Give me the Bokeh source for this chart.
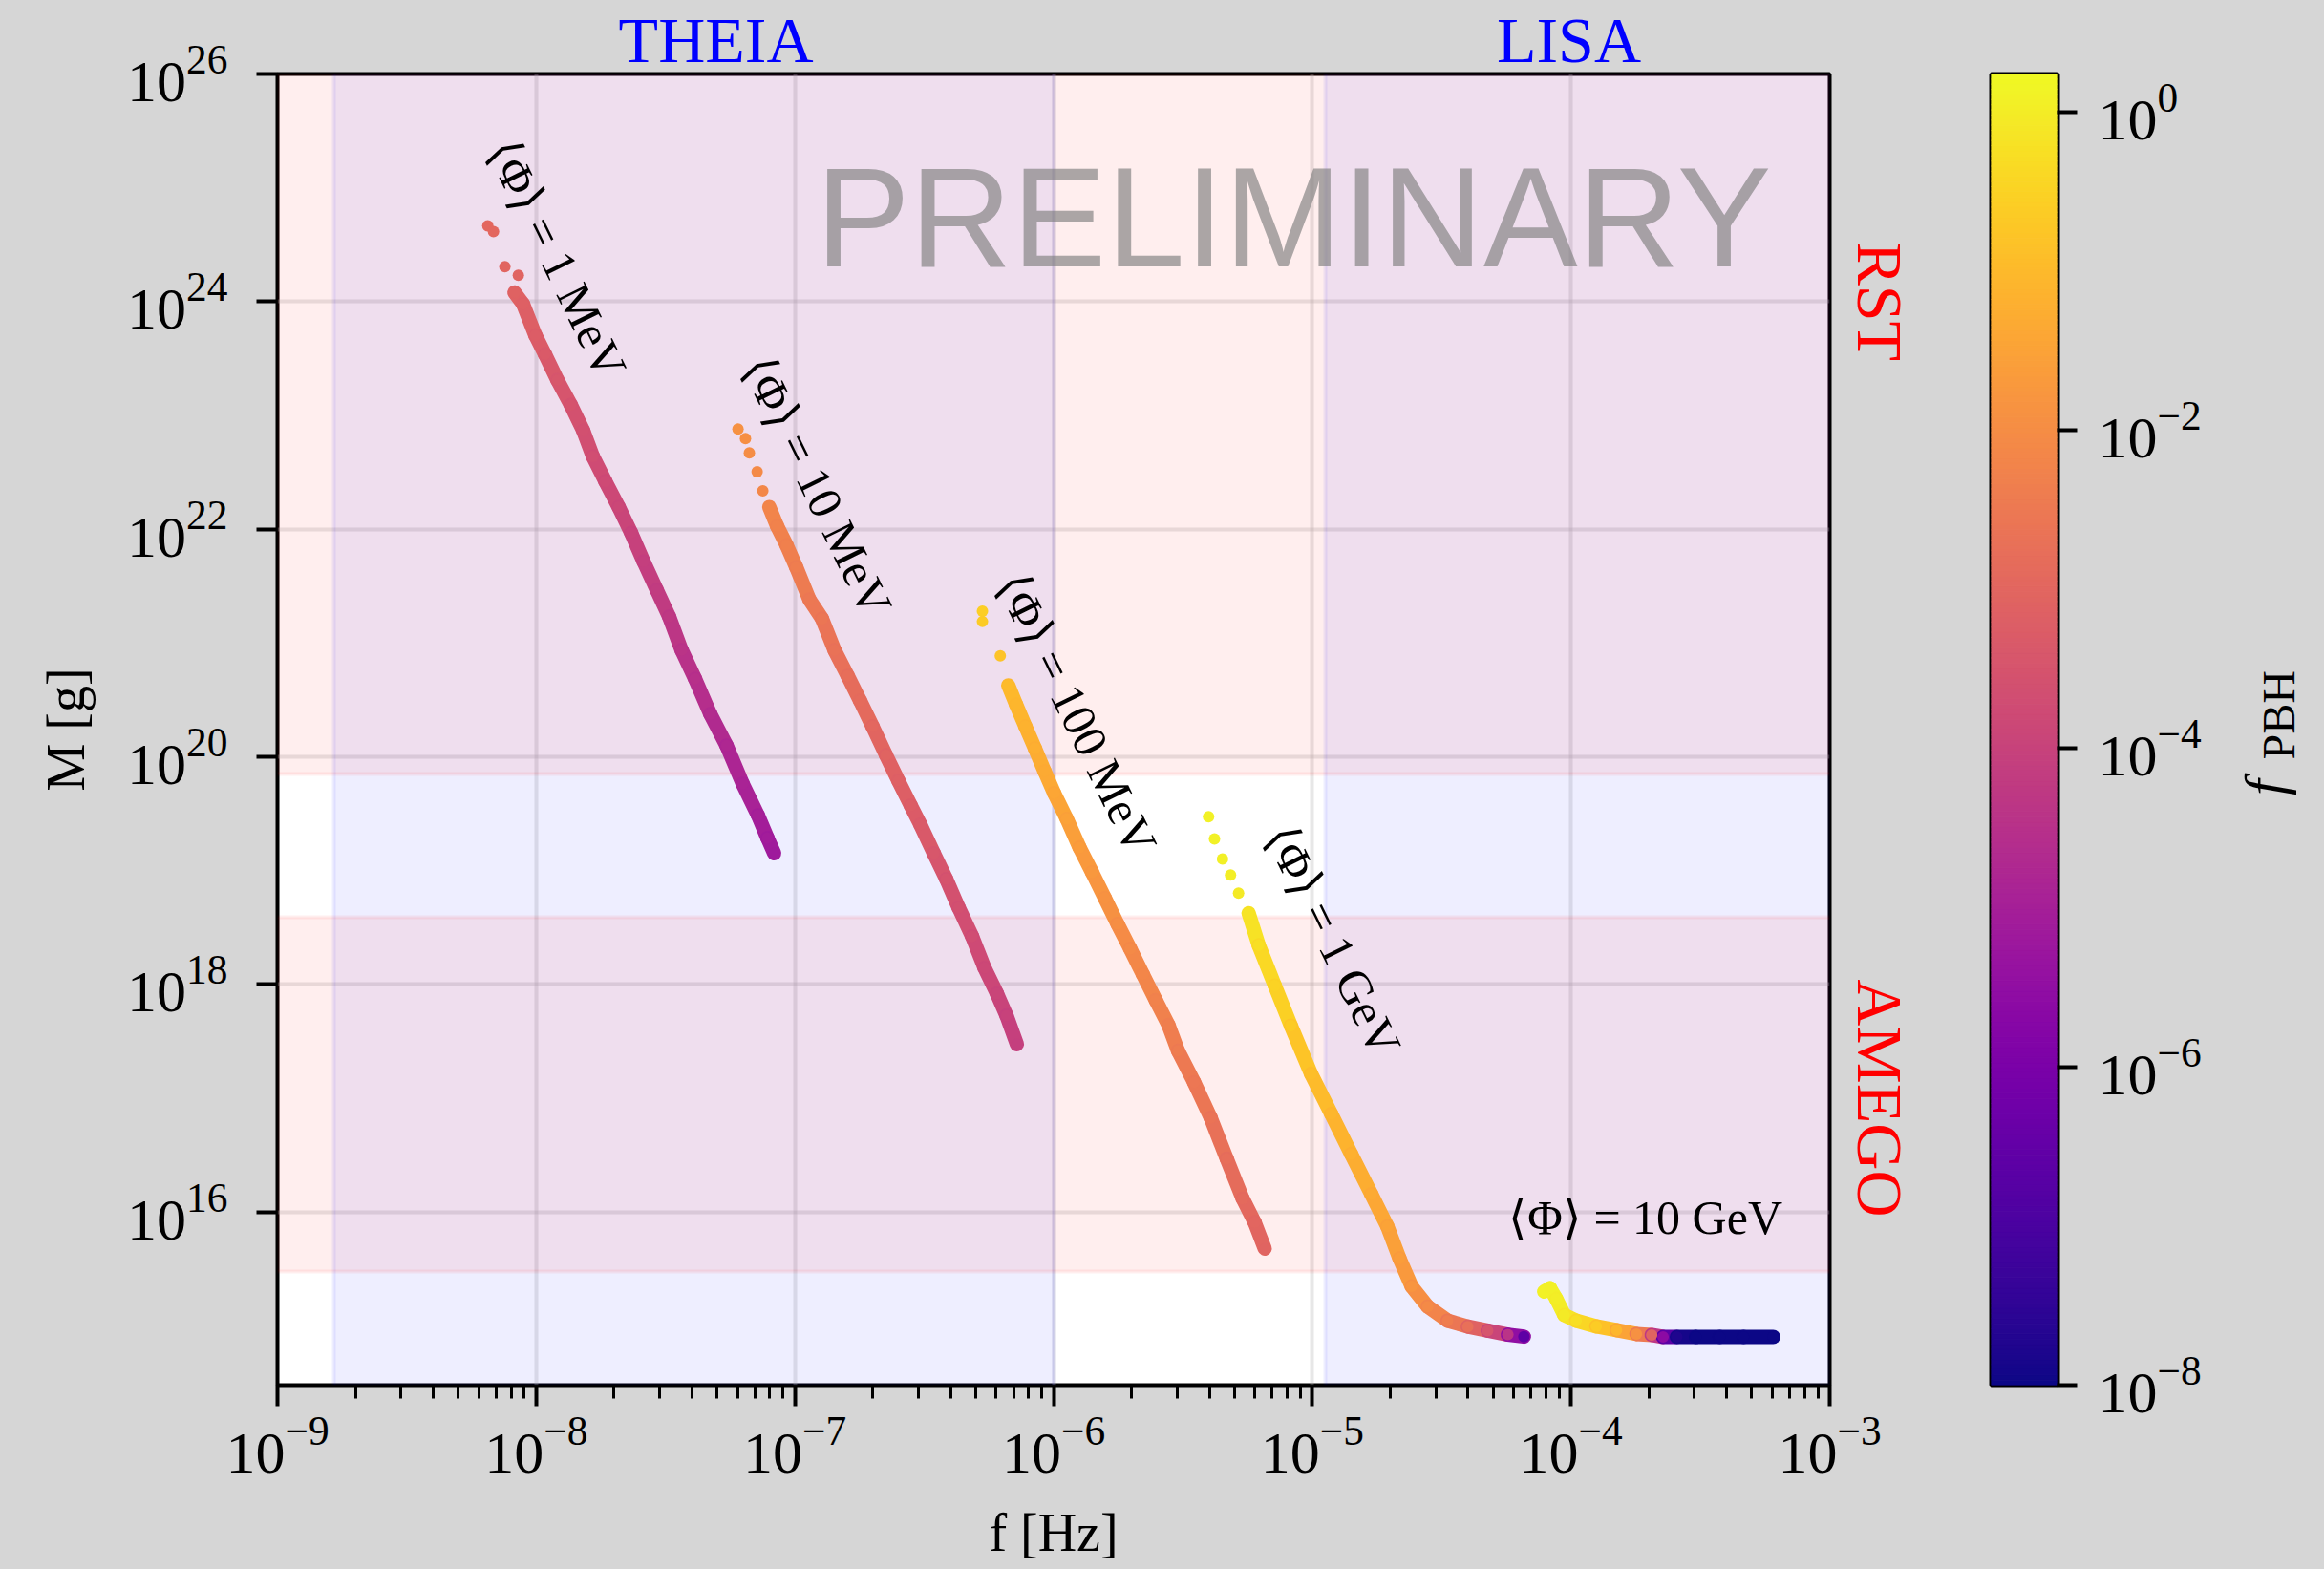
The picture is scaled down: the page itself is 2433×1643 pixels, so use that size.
import numpy as np
from bokeh.plotting import figure
from bokeh.layouts import row
from bokeh.models import ColumnDataSource, LogColorMapper, FixedTicker, Label, Range1d, LogAxis
from bokeh.palettes import Plasma256
from bokeh.core.properties import value
from bokeh.embed import file_html
from bokeh.resources import INLINE

# ---------------------------------------------------------------- data
# Each track: log10 f [Hz], log10 M [g], log10 f_PBH.  The first
# `sparse` samples of a track are the isolated points at its heavy end.
phi_1mev_logf = [-8.187, -8.165, -8.121, -8.069,
                 -8.084, -8.051, -8.003, -7.966, -7.918, -7.866, -7.818, -7.781,
                 -7.733, -7.681, -7.633, -7.585, -7.534, -7.486, -7.438, -7.386,
                 -7.327, -7.264, -7.202, -7.143, -7.106, -7.080]
phi_1mev_logM = [24.666, 24.616, 24.306, 24.231,
                 24.080, 23.980, 23.703, 23.536, 23.310, 23.091, 22.865, 22.639,
                 22.421, 22.194, 21.968, 21.716, 21.465, 21.230, 20.937, 20.685,
                 20.375, 20.098, 19.763, 19.486, 19.286, 19.152]
phi_1mev_logfpbh = [-2.95, -2.97, -3.03, -3.05,
                    -3.10, -3.15, -3.25, -3.33, -3.43, -3.52, -3.60, -3.68,
                    -3.78, -3.88, -3.98, -4.08, -4.18, -4.27, -4.42, -4.52,
                    -4.65, -4.75, -4.88, -5.00, -5.10, -5.18]

phi_10mev_logf = [-7.220, -7.191, -7.176, -7.146, -7.124,
                  -7.099, -7.069, -7.032, -6.995, -6.944, -6.895, -6.847, -6.796,
                  -6.748, -6.700, -6.648, -6.600, -6.552, -6.515, -6.463, -6.415,
                  -6.367, -6.315, -6.267, -6.219, -6.182, -6.142]
phi_10mev_logM = [22.881, 22.797, 22.671, 22.504, 22.336,
                  22.194, 22.027, 21.859, 21.666, 21.382, 21.213, 20.937, 20.711,
                  20.492, 20.267, 20.015, 19.789, 19.571, 19.404, 19.152, 18.925,
                  18.674, 18.422, 18.145, 17.919, 17.726, 17.474]
phi_10mev_logfpbh = [-1.90, -1.93, -1.99, -2.05, -2.12,
                     -2.18, -2.25, -2.32, -2.39, -2.51, -2.58, -2.69, -2.78,
                     -2.87, -2.96, -3.07, -3.16, -3.25, -3.31, -3.42, -3.51,
                     -3.61, -3.71, -3.83, -3.92, -4.00, -4.10]

phi_100mev_logf = [-6.275, -6.275, -6.206,
                   -6.175, -6.145, -6.109, -6.072, -6.035, -5.998, -5.949, -5.900,
                   -5.851, -5.802, -5.753, -5.704, -5.655, -5.605, -5.556, -5.519,
                   -5.457, -5.393, -5.331, -5.269, -5.223, -5.184]
phi_100mev_logM = [21.280, 21.188, 20.886,
                   20.627, 20.459, 20.267, 20.073, 19.873, 19.680, 19.454, 19.203,
                   18.984, 18.758, 18.531, 18.313, 18.088, 17.861, 17.642, 17.416,
                   17.140, 16.828, 16.469, 16.116, 15.909, 15.678]
phi_100mev_logfpbh = [-0.59, -0.64, -0.82,
                      -0.98, -1.06, -1.15, -1.24, -1.33, -1.41, -1.52, -1.64,
                      -1.75, -1.86, -1.96, -2.07, -2.16, -2.25, -2.34, -2.42,
                      -2.53, -2.64, -2.77, -2.90, -2.98, -3.06]

phi_1gev_logf = [-5.401, -5.378, -5.347, -5.316, -5.285,
                 -5.246, -5.207, -5.145, -5.083, -5.005, -4.927, -4.850, -4.772,
                 -4.710, -4.663, -4.616, -4.554, -4.477, -4.399, -4.322, -4.244,
                 -4.182]
phi_1gev_logM = [19.472, 19.277, 19.101, 18.961, 18.801,
                 18.625, 18.343, 17.990, 17.637, 17.214, 16.861, 16.509, 16.156,
                 15.873, 15.591, 15.345, 15.168, 15.044, 14.992, 14.956, 14.921,
                 14.904]
phi_1gev_logfpbh = [0.10, 0.08, 0.05, 0.02, -0.02,
                    -0.15, -0.27, -0.48, -0.65, -0.90, -1.05, -1.20, -1.33,
                    -1.47, -1.62, -1.82, -2.07, -2.40, -2.73, -3.47, -4.40,
                    -6.60]

phi_10gev_logf = [-4.104, -4.081, -4.057, -4.026, -3.980, -3.902, -3.824, -3.747,
                  -3.688, -3.644, -3.591, -3.517, -3.425, -3.333, -3.218]
phi_10gev_logM = [15.300, 15.329, 15.237, 15.094, 15.044, 14.994, 14.960, 14.927,
                  14.918, 14.901, 14.901, 14.901, 14.901, 14.901, 14.901]
phi_10gev_logfpbh = [0.08, 0.07, 0.04, -0.05, -0.26, -0.60, -1.08, -1.90,
                     -3.06, -5.60, -7.75, -8.00, -8.00, -8.00, -8.00]

tracks = [
    ("⟨Φ⟩ = 1 MeV", phi_1mev_logf, phi_1mev_logM, phi_1mev_logfpbh, 4),
    ("⟨Φ⟩ = 10 MeV", phi_10mev_logf, phi_10mev_logM, phi_10mev_logfpbh, 5),
    ("⟨Φ⟩ = 100 MeV", phi_100mev_logf, phi_100mev_logM, phi_100mev_logfpbh, 3),
    ("⟨Φ⟩ = 1 GeV", phi_1gev_logf, phi_1gev_logM, phi_1gev_logfpbh, 5),
    ("⟨Φ⟩ = 10 GeV", phi_10gev_logf, phi_10gev_logM, phi_10gev_logfpbh, 0),
]

# curve annotations: anchor (log10 f, log10 M) and rotation in degrees
label_logf = [-7.920, -6.914, -5.911, -4.920, -3.712]
label_logM = [24.373, 22.378, 20.377, 18.386, 15.954]
label_angle_deg = [-64, -64, -64, -64, 0]

# experiment windows
theia_band_hz = (1.65e-9, 1.0e-6)
lisa_band_hz = (1.12e-5, 1.0e-1)
rst_band_g = (7.06e19, 1.0e30)
amego_band_g = (2.98e15, 3.87e18)

# where the window names sit along the axes
freq_window_names = {10 ** -7.305: "THEIA", 10 ** -4.008: "LISA"}
mass_window_names = {1e24: "RST", 1e17: "AMEGO"}

FPBH_MIN, FPBH_MAX = 1e-8, 1.73
F_RANGE = (1e-9, 1e-3)
M_RANGE = (3e14, 1e26)

SERIF = "Liberation Serif"
BG = "#d6d6d6"

mapper = LogColorMapper(palette=Plasma256, low=FPBH_MIN, high=FPBH_MAX)

# ---------------------------------------------------------------- main panel
MAIN_W = 2015
p = figure(width=MAIN_W, height=1643,
           x_axis_type="log", y_axis_type="log",
           x_range=Range1d(*F_RANGE), y_range=Range1d(*M_RANGE),
           min_border_left=290, min_border_right=MAIN_W - 1915,
           min_border_top=77, min_border_bottom=193,
           output_backend="svg", toolbar_location=None,
           styles={"background-color": BG})
p.background_fill_color = "white"
p.border_fill_color = BG
p.border_fill_alpha = 1.0
p.outline_line_color = "black"
p.outline_line_width = 4

p.xaxis.ticker = FixedTicker(
    ticks=[10.0 ** k for k in range(-9, -2)],
    minor_ticks=[m * 10.0 ** k for k in range(-9, -3) for m in range(2, 10)])
p.yaxis.ticker = FixedTicker(ticks=[10.0 ** k for k in range(16, 27, 2)], minor_ticks=[])

for ax in (p.xaxis[0], p.yaxis[0]):
    ax.axis_line_color = None
    ax.major_tick_in = 0
    ax.major_tick_out = 22
    ax.major_tick_line_width = 4
    ax.minor_tick_in = 0
    ax.minor_tick_out = 14
    ax.minor_tick_line_width = 3
    ax.major_label_text_font = SERIF
    ax.major_label_text_font_size = "62px"
    ax.major_label_text_color = "black"
    ax.axis_label_text_font = SERIF
    ax.axis_label_text_font_size = "56px"
    ax.axis_label_text_font_style = "normal"
    ax.axis_label_text_color = "black"
p.xaxis.major_label_standoff = 12
p.yaxis.major_label_standoff = 30
p.xaxis.axis_label = "f [Hz]"
p.xaxis.axis_label_standoff = 29
p.yaxis.axis_label = "M [g]"
p.yaxis.axis_label_standoff = 30

p.grid.grid_line_color = "#b0b0b0"
p.grid.grid_line_alpha = 0.3
p.grid.grid_line_width = 4

# window names as label-only axes
top_names = LogAxis(ticker=FixedTicker(ticks=list(freq_window_names), minor_ticks=[]),
                    major_label_overrides=freq_window_names)
right_names = LogAxis(ticker=FixedTicker(ticks=list(mass_window_names), minor_ticks=[]),
                      major_label_overrides=mass_window_names,
                      major_label_orientation="vertical")
for ax, colour, gap in ((top_names, "blue", -2), (right_names, "red", 14)):
    ax.axis_line_color = None
    ax.major_tick_line_color = None
    ax.major_tick_in = 0
    ax.major_tick_out = 0
    ax.minor_tick_line_color = None
    ax.major_label_standoff = gap
    ax.major_label_text_font = SERIF
    ax.major_label_text_font_size = "68px"
    ax.major_label_text_color = colour
p.add_layout(top_names, "above")
p.add_layout(right_names, "right")

# sensitivity windows
p.vstrip(x0=[theia_band_hz[0], lisa_band_hz[0]], x1=[theia_band_hz[1], lisa_band_hz[1]],
         fill_color="blue", fill_alpha=0.065, line_color="blue", line_alpha=0.065, line_width=4)
p.hstrip(y0=[amego_band_g[0], rst_band_g[0]], y1=[amego_band_g[1], rst_band_g[1]],
         fill_color="red", fill_alpha=0.065, line_color="red", line_alpha=0.065, line_width=4)

# tracks, coloured by f_PBH
for name, lf, lm, lp, sparse in tracks:
    f = 10.0 ** np.array(lf)
    m = 10.0 ** np.array(lm)
    fp = 10.0 ** np.array(lp)
    fd, md, fpd = f[sparse:], m[sparse:], fp[sparse:]
    seg = ColumnDataSource(dict(x0=fd[:-1], y0=md[:-1], x1=fd[1:], y1=md[1:],
                                fpbh=np.sqrt(fpd[:-1] * fpd[1:])))
    p.segment("x0", "y0", "x1", "y1", source=seg, line_width=15, line_cap="round",
              line_color={"field": "fpbh", "transform": mapper})
    pts = ColumnDataSource(dict(x=f, y=m, fpbh=fp))
    p.scatter("x", "y", source=pts, marker="circle", size=12, line_color=None,
              fill_color={"field": "fpbh", "transform": mapper})

lbl = ColumnDataSource(dict(x=10.0 ** np.array(label_logf), y=10.0 ** np.array(label_logM),
                            text=[t[0] for t in tracks],
                            angle=np.radians(label_angle_deg)))
p.text("x", "y", text="text", angle="angle", source=lbl,
       text_align="center", text_baseline="middle",
       text_font=value(SERIF), text_font_size=value("50px"), text_color="black")

p.add_layout(Label(x=10 ** -3.225, y=10 ** 24.742, text="PRELIMINARY",
                   text_align="right", text_baseline="alphabetic",
                   text_font="Liberation Sans", text_font_size="148px",
                   text_color="#808080", text_alpha=0.66))

# ---------------------------------------------------------------- colour bar
cb = figure(width=2433 - MAIN_W, height=1643, x_range=Range1d(0, 1),
            y_range=Range1d(FPBH_MIN, FPBH_MAX), y_axis_type="log",
            y_axis_location="right", x_axis_location=None,
            min_border_left=2084 - MAIN_W, min_border_right=2433 - 2154,
            min_border_top=77, min_border_bottom=193,
            output_backend="svg", toolbar_location=None,
            styles={"background-color": BG})
cb.background_fill_color = BG
cb.border_fill_color = BG
cb.border_fill_alpha = 1.0
cb.outline_line_color = "black"
cb.outline_line_width = 4
cb.grid.visible = False
edges = np.logspace(np.log10(FPBH_MIN), np.log10(FPBH_MAX), len(Plasma256) + 1)
cb.quad(left=0, right=1, bottom=edges[:-1], top=edges[1:],
        fill_color=list(Plasma256), line_color=list(Plasma256), line_width=1)
ya = cb.yaxis[0]
ya.ticker = FixedTicker(ticks=[1e-8, 1e-6, 1e-4, 1e-2, 1.0], minor_ticks=[])
ya.axis_line_color = None
ya.major_tick_in = 0
ya.major_tick_out = 20
ya.major_tick_line_width = 4
ya.major_label_text_font = SERIF
ya.major_label_text_font_size = "62px"
ya.major_label_text_color = "black"
ya.major_label_standoff = 22

# colour-bar title f_PBH, kept in the side panels so it is not clipped
cb.add_layout(Label(x=4.09, y=10 ** -4.295, text="f", angle=np.pi / 2, text_font=SERIF,
                    text_font_style="italic", text_font_size="60px", text_color="black",
                    text_align="left", text_baseline="alphabetic"), "left")
cb.add_layout(Label(x=4.30, y=10 ** -4.07, text="PBH", angle=np.pi / 2, text_font=SERIF,
                    text_font_size="48px", text_color="black",
                    text_align="left", text_baseline="alphabetic"), "right")

layout = row(p, cb, styles={"background-color": BG})
open("out.html", "w").write(file_html(layout, INLINE))
